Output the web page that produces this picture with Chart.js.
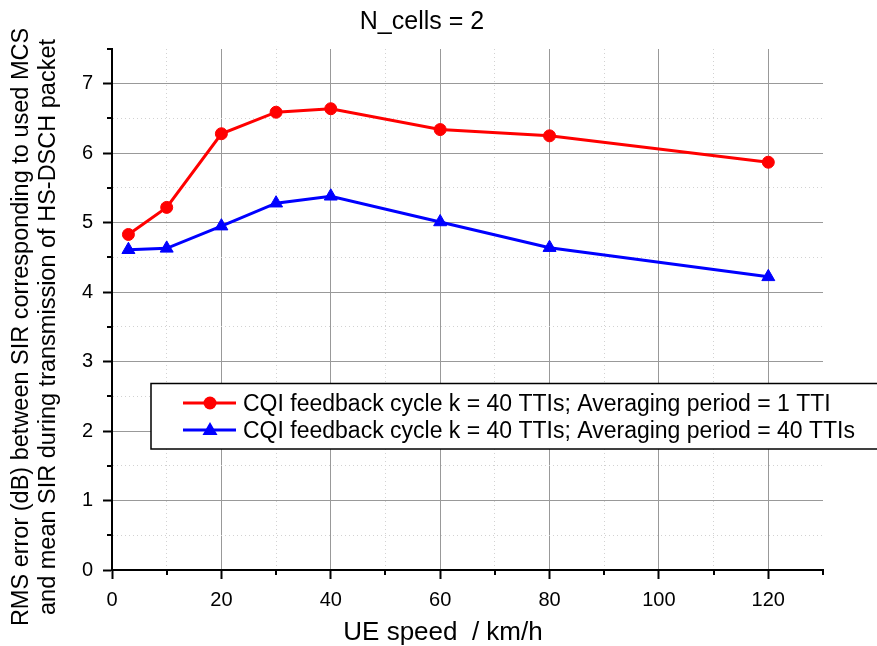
<!DOCTYPE html>
<html>
<head>
<meta charset="utf-8">
<script src="https://cdn.jsdelivr.net/npm/chart.js@4.4.1/dist/chart.umd.min.js"></script>
<style>
html, body { margin: 0; padding: 0; background: #fff; }
#wrap { width: 877px; height: 646px; }
</style>
</head>
<body>
<div id="wrap"><canvas id="myChart"></canvas></div>
<script>
// data
var speeds = [3, 10, 20, 30, 40, 60, 80, 120];
var rmsAvg1 = [4.83, 5.22, 6.28, 6.59, 6.64, 6.34, 6.25, 5.87];
var rmsAvg40 = [4.61, 4.63, 4.95, 5.28, 5.38, 5.01, 4.64, 4.22];
var seriesNames = [
    'CQI feedback cycle k = 40 TTIs; Averaging period = 1 TTI',
    'CQI feedback cycle k = 40 TTIs; Averaging period = 40 TTIs'
];
var xTickLabels = [0, 20, 40, 60, 80, 100, 120];
var yTickLabels = [0, 1, 2, 3, 4, 5, 6, 7];
var titleText = 'N_cells = 2';
var xTitle = 'UE speed  / km/h';
var yTitle = ['RMS error (dB) between SIR corresponding to used MCS',
              'and mean SIR during transmission of HS-DSCH packet'];

var FONT = "'Liberation Sans', Arial, sans-serif";

function toPoints(xs, ys) {
    return xs.map(function (x, i) { return {x: x, y: ys[i]}; });
}

var isMajorX = function (v) { return xTickLabels.indexOf(v) >= 0; };
var isMajorY = function (v) { return yTickLabels.indexOf(v) >= 0; };

// titles, legend and minor ticks
var decor = {
    id: 'decor',
    afterDraw: function (chart) {
        var c = chart.ctx;
        var xs = chart.scales.x, ys = chart.scales.y;
        c.save();
        // minor ticks
        c.strokeStyle = '#000';
        c.lineWidth = 2;
        c.beginPath();
        for (var v = 10; v <= 130; v += 20) {
            var px = Math.round(xs.getPixelForValue(v));
            c.moveTo(px, ys.bottom);
            c.lineTo(px, ys.bottom + 5);
        }
        for (var w = 0.5; w <= 7.5; w += 1) {
            var py = Math.round(ys.getPixelForValue(w));
            c.moveTo(xs.left - 5, py);
            c.lineTo(xs.left, py);
        }
        c.stroke();

        c.fillStyle = '#000';
        c.textBaseline = 'alphabetic';
        // title
        c.font = '25px ' + FONT;
        c.textAlign = 'center';
        c.fillText(titleText, 422, 29);
        // x title
        c.font = '26px ' + FONT;
        c.fillText(xTitle, 443, 640);
        // y title
        c.save();
        c.translate(0, 327);
        c.rotate(-Math.PI / 2);
        c.font = '23.5px ' + FONT;
        c.fillText(yTitle[0], 0, 28);
        c.fillText(yTitle[1], 0, 55);
        c.restore();

        // legend box
        c.fillStyle = '#fff';
        c.fillRect(151, 383, 730, 66);
        c.strokeStyle = '#000';
        c.lineWidth = 1.5;
        c.strokeRect(151, 383.5, 730, 65.5);
        var rows = [
            {y: 403, color: '#ff0000', style: 'circle', text: seriesNames[0]},
            {y: 430, color: '#0000ff', style: 'triangle', text: seriesNames[1]}
        ];
        rows.forEach(function (r) {
            c.strokeStyle = r.color;
            c.fillStyle = r.color;
            c.lineWidth = 3;
            c.beginPath();
            c.moveTo(183, r.y);
            c.lineTo(236, r.y);
            c.stroke();
            c.beginPath();
            if (r.style === 'circle') {
                c.arc(210, r.y, 6.5, 0, Math.PI * 2);
            } else {
                c.moveTo(210, r.y - 8);
                c.lineTo(217.5, r.y + 5);
                c.lineTo(202.5, r.y + 5);
                c.closePath();
            }
            c.fill();
            c.fillStyle = '#000';
            c.font = '23px ' + FONT;
            c.textAlign = 'left';
            c.fillText(r.text, 243, r.y + 8);
        });
        c.restore();
    }
};

var ctx = document.getElementById('myChart').getContext('2d');
var chart = new Chart(ctx, {
    type: 'line',
    data: {
        datasets: [{
            label: seriesNames[0],
            data: toPoints(speeds, rmsAvg1),
            borderColor: '#ff0000',
            backgroundColor: '#ff0000',
            borderWidth: 3,
            pointStyle: 'circle',
            pointRadius: 6,
            pointBorderWidth: 1,
            tension: 0
        }, {
            label: seriesNames[1],
            data: toPoints(speeds, rmsAvg40),
            borderColor: '#0000ff',
            backgroundColor: '#0000ff',
            borderWidth: 3,
            pointStyle: 'triangle',
            pointRadius: 7.5,
            pointBorderWidth: 1,
            tension: 0
        }]
    },
    options: {
        responsive: true,
        maintainAspectRatio: false,
        animation: false,
        layout: { padding: { top: 49, right: 54, left: 0, bottom: 0 } },
        plugins: {
            legend: { display: false },
            title: { display: false },
            tooltip: { enabled: false }
        },
        scales: {
            x: {
                type: 'linear',
                min: 0,
                max: 130,
                afterFit: function (s) { s.height = 76; },
                ticks: {
                    stepSize: 10,
                    padding: 9,
                    maxRotation: 0,
                    autoSkip: false,
                    color: '#000',
                    font: { family: FONT, size: 20 },
                    callback: function (v) { return isMajorX(v) ? String(v) : ''; }
                },
                grid: {
                    color: function (c) {
                        var v = c.tick.value;
                        if (v >= 130) return 'rgba(0,0,0,0)';
                        return isMajorX(v) ? '#999999' : '#d2d2d2';
                    },
                    lineWidth: 1,
                    tickLength: 9,
                    tickWidth: 2,
                    tickColor: function (c) { return isMajorX(c.tick.value) ? '#000' : 'rgba(0,0,0,0)'; }
                },
                border: {
                    display: true,
                    color: '#000',
                    width: 2,
                    dash: function (c) {
                        if (!c.tick) return [];
                        return isMajorX(c.tick.value) ? [] : [1, 3];
                    }
                }
            },
            y: {
                type: 'linear',
                min: 0,
                max: 7.5,
                afterFit: function (s) { s.width = 112; },
                ticks: {
                    stepSize: 0.5,
                    padding: 10,
                    autoSkip: false,
                    color: '#000',
                    font: { family: FONT, size: 20 },
                    callback: function (v) { return isMajorY(v) ? String(v) : ''; }
                },
                grid: {
                    color: function (c) {
                        var v = c.tick.value;
                        if (v >= 7.5) return 'rgba(0,0,0,0)';
                        return isMajorY(v) ? '#999999' : '#d2d2d2';
                    },
                    lineWidth: 1,
                    tickLength: 9,
                    tickWidth: 2,
                    tickColor: function (c) { return isMajorY(c.tick.value) ? '#000' : 'rgba(0,0,0,0)'; }
                },
                border: {
                    display: true,
                    color: '#000',
                    width: 2,
                    dash: function (c) {
                        if (!c.tick) return [];
                        return isMajorY(c.tick.value) ? [] : [1, 3];
                    }
                }
            }
        }
    },
    plugins: [decor]
});
</script>
</body>
</html>
